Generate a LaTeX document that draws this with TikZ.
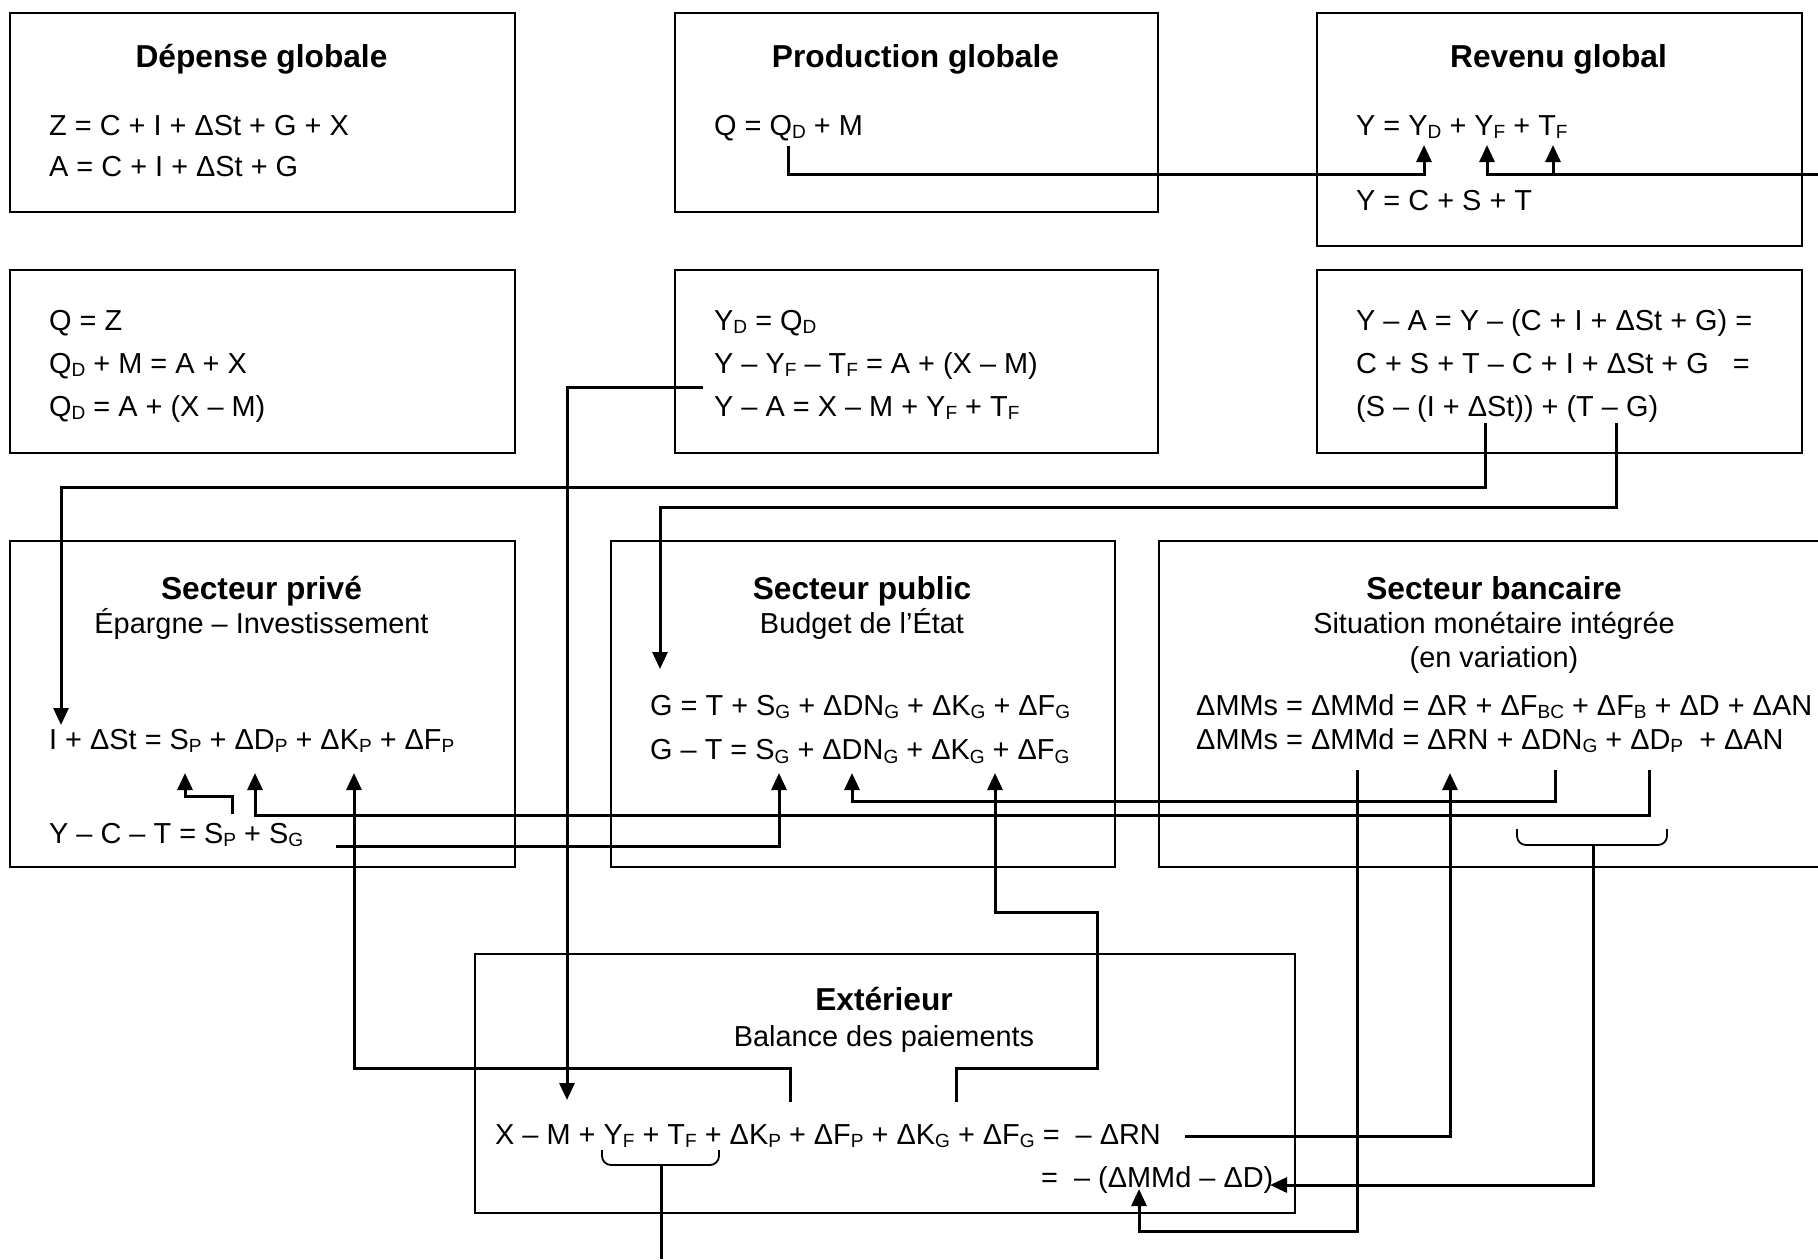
\documentclass[tikz,border=0pt]{standalone}
\usepackage{graphicx}
\usepackage{fontspec}
\setmainfont{Liberation Sans}
\usetikzlibrary{arrows.meta}

% subscript letters as in the equations
\newcommand\sbs[1]{\raisebox{-0.13em}{\scalebox{0.66}{#1}}}
\newcommand\bodyfont{\fontsize{28.9}{35}\selectfont}
\newcommand\titlefont{\fontsize{31.7}{38}\selectfont\bfseries}

\tikzset{
  box/.style={draw, line width=1.8pt, inner sep=0pt, anchor=north west},
  eq/.style={anchor=base west, inner sep=0pt, font=\bodyfont},
  heading/.style={anchor=base, inner sep=0pt, font=\titlefont},
  subheading/.style={anchor=base, inner sep=0pt, font=\bodyfont},
  link/.style={line width=3pt},
  arr/.style={link, -{Triangle[length=17pt,width=15pt]}},
  brace/.style={line width=1.8pt, rounded corners=9pt},
}

\begin{document}
\begin{tikzpicture}[x=1pt, y=-1pt]
\useasboundingbox (0,0) rectangle (1818,1259);
\clip (0,0) rectangle (1818,1259);

% ---------------- boxes ----------------
\node[box, minimum width=505, minimum height=199] (dep)  at (9,12) {};
\node[box, minimum width=483, minimum height=199] (prod) at (674,12) {};
\node[box, minimum width=485, minimum height=233] (rev)  at (1316,12) {};
\node[box, minimum width=505, minimum height=183] (qz)   at (9,269) {};
\node[box, minimum width=483, minimum height=183] (yd)   at (674,269) {};
\node[box, minimum width=485, minimum height=183] (ya)   at (1316,269) {};
\node[box, minimum width=505, minimum height=326] (priv) at (9,540) {};
\node[box, minimum width=504, minimum height=326] (pub)  at (610,540) {};
\node[box, minimum width=672, minimum height=326] (bank) at (1158,540) {};
\node[box, minimum width=820, minimum height=259] (ext)  at (474,953) {};

% ---------------- texts ----------------
\node[heading] (depT) at (261.5,67) {Dépense globale};
\node[eq] (dep1) at (49,135) {Z = C + I + ΔSt + G + X};
\node[eq] (dep2) at (49,176) {A = C + I + ΔSt + G};

\node[heading] (prodT) at (915.5,67) {Production globale};
\node[eq] (prod1) at (714,135) {Q = Q\sbs{D} + M};

\node[heading] (revT) at (1558.5,67) {Revenu global};
\node[eq] (rev1) at (1356,135) {Y = Y\sbs{D} + Y\sbs{F} + T\sbs{F}};
\node[eq] (rev2) at (1356,210) {Y = C + S + T};

\node[eq] (qz1) at (49,330) {Q = Z};
\node[eq] (qz2) at (49,373) {Q\sbs{D} + M = A + X};
\node[eq] (qz3) at (49,416) {Q\sbs{D} = A + (X – M)};

\node[eq] (yd1) at (714,330) {Y\sbs{D} = Q\sbs{D}};
\node[eq] (yd2) at (714,373) {Y – Y\sbs{F} – T\sbs{F} = A + (X – M)};
\node[eq] (yd3) at (714,416) {Y – A = X – M + Y\sbs{F} + T\sbs{F}};

\node[eq] (ya1) at (1356,330) {Y – A = Y – (C + I + ΔSt + G) =};
\node[eq] (ya2) at (1356,373) {C + S + T – C + I + ΔSt + G \ \ =};
\node[eq] (ya3) at (1356,416) {(S – (I + ΔSt)) + (T – G)};

\node[heading] (privT) at (261.5,599) {Secteur privé};
\node[subheading] (privS) at (261.5,633) {Épargne – Investissement};
\node[eq] (priv1) at (49,749) {I + ΔSt = S\sbs{P} + ΔD\sbs{P} + ΔK\sbs{P} + ΔF\sbs{P}};
\node[eq] (priv2) at (49,843) {Y – C – T = S\sbs{P} + S\sbs{G}};

\node[heading] (pubT) at (862,599) {Secteur public};
\node[subheading] (pubS) at (862,633) {Budget de l’État};
\node[eq] (pub1) at (650,715) {G = T + S\sbs{G} + ΔDN\sbs{G} + ΔK\sbs{G} + ΔF\sbs{G}};
\node[eq] (pub2) at (650,759.5) {G – T = S\sbs{G} + ΔDN\sbs{G} + ΔK\sbs{G} + ΔF\sbs{G}};

\node[heading] (bankT) at (1494,599) {Secteur bancaire};
\node[subheading] (bankS) at (1494,633) {Situation monétaire intégrée};
\node[subheading] (bankS2) at (1494,667) {(en variation)};
\node[eq] (bank1) at (1196,715) {ΔMMs = ΔMMd = ΔR + ΔF\sbs{BC} + ΔF\sbs{B} + ΔD + ΔAN};
\node[eq] (bank2) at (1196,749) {ΔMMs = ΔMMd = ΔRN + ΔDN\sbs{G} + ΔD\sbs{P} \ + ΔAN};

\node[heading] (extT) at (884,1010) {Extérieur};
\node[subheading] (extS) at (884,1046) {Balance des paiements};
\node[eq] (ext1) at (495,1144) {X – M + Y\sbs{F} + T\sbs{F} + ΔK\sbs{P} + ΔF\sbs{P} + ΔK\sbs{G} + ΔF\sbs{G} = \ – ΔRN};
\node[eq] (ext2) at (1041,1187) {= \ – (ΔMMd – ΔD)};

% ---------------- connector ends ----------------
\coordinate (qdOut)  at (788,146);
\coordinate (ydIn)   at (1424,145);
\coordinate (revIn)  at (1818,174);
\coordinate (yfIn)   at (1487,145);
\coordinate (tfIn)   at (1553,145);
\coordinate (sdOut)  at (1485,423);
\coordinate (iIn)    at (61,725);
\coordinate (tgOut)  at (1616,423);
\coordinate (gIn)    at (660,669);
\coordinate (yaOut)  at (703,387);
\coordinate (xmIn)   at (567,1100);
\coordinate (spOut)  at (232,814);
\coordinate (spIn)   at (185,773);
\coordinate (dpOut)  at (1649,770);
\coordinate (dpIn)   at (255,773);
\coordinate (dngOut) at (1555,770);
\coordinate (dngIn)  at (852,773);
\coordinate (sgOut)  at (336,846);
\coordinate (sgIn)   at (779,773);
\coordinate (kpOut)  at (790,1102);
\coordinate (kpIn)   at (354,773);
\coordinate (kgOut)  at (956,1102);
\coordinate (kgIn)   at (995,773);
\coordinate (mmdOut) at (1357,770);
\coordinate (mmdIn)  at (1139,1189);
\coordinate (rnOut)  at (1185,1136);
\coordinate (rnIn)   at (1450,773);
\coordinate (bkBr)   at (1593,845);
\coordinate (dIn)    at (1270,1185);
\coordinate (exBr)   at (661,1165);
\coordinate (exOut)  at (661,1259);

% ---------------- connectors ----------------
\draw[arr] (qdOut) -- ++(0,28) -| (ydIn);
\draw[arr] (revIn) -| (yfIn);
\draw[arr] (tfIn |- revIn) -- (tfIn);
\draw[arr] (sdOut) -- ++(0,64) -| (iIn);
\draw[arr] (tgOut) -- ++(0,84) -| (gIn);
\draw[arr] (yaOut) -| (xmIn);
\draw[arr] (spOut) -- ++(0,-18) -| (spIn);
\draw[arr] (dpOut) -- ++(0,45) -| (dpIn);
\draw[arr] (dngOut) -- ++(0,31) -| (dngIn);
\draw[arr] (sgOut) -| (sgIn);
\draw[arr] (kpOut) -- ++(0,-34) -| (kpIn);
\draw[arr] (kgOut) -- ++(0,-34) -| ++(141,-156) -| (kgIn);
\draw[arr] (mmdOut) -- ++(0,461) -| (mmdIn);
\draw[arr] (rnOut) -| (rnIn);

% braces and their stems
\draw[brace] (1517,829) -- (1517,845) -- (1667,845) -- (1667,829);
\draw[arr] (bkBr) |- (dIn);
\draw[brace] (602,1150) -- (602,1165) -- (719,1165) -- (719,1150);
\draw[link] (exBr) -- (exOut);
\end{tikzpicture}
\end{document}
